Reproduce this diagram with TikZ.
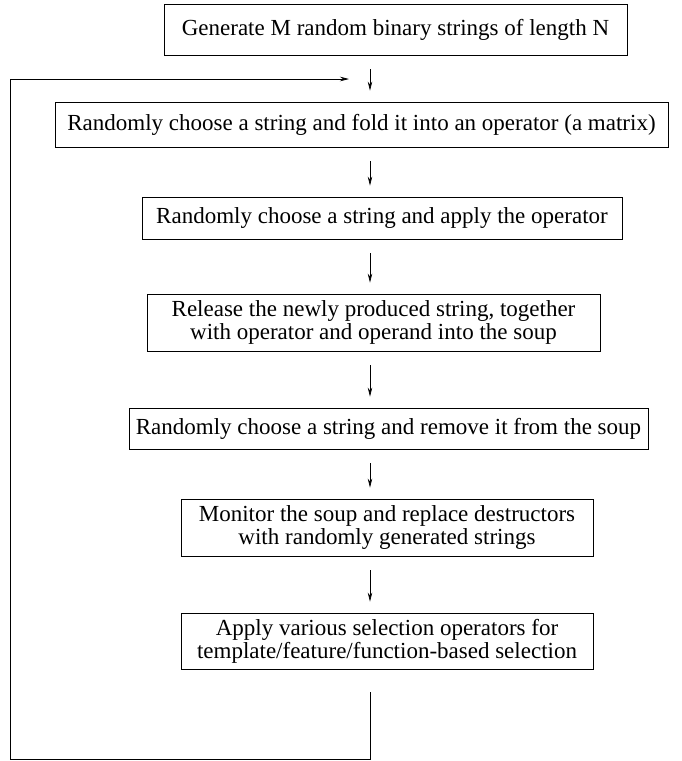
\documentclass[tikz,border=0pt]{standalone}
\usepackage{fontspec}
\setmainfont{Liberation Serif}
\usetikzlibrary{arrows.meta}

\begin{document}
\begin{tikzpicture}[x=1pt,y=-1pt,
        stepbox/.style={draw,line width=0.8pt,inner sep=0pt,align=center,font=\fontsize{23}{23}\selectfont},
        arr/.style={-{Stealth[length=9pt,width=4.5pt]},line width=0.7pt,shorten <=14pt,shorten >=11pt}]
            \useasboundingbox (0,0) rectangle (682,761);
            \coordinate (ax) at (370,0);
            \node[stepbox,minimum width=463pt,minimum height=51pt] (b1) at (395.5,29.5) {Generate M random binary strings of length N};
            \node[stepbox,minimum width=613pt,minimum height=45pt] (b2) at (361.5,124.5) {Randomly choose a string and fold it into an operator (a matrix)};
            \node[stepbox,minimum width=480pt,minimum height=42pt] (b3) at (382,218) {Randomly choose a string and apply the operator};
            \node[stepbox,minimum width=453pt,minimum height=57pt] (b4) at (373.5,322.5) {Release the newly produced string, together\\ with operator and operand into the soup};
            \node[stepbox,minimum width=519pt,minimum height=41pt] (b5) at (388.5,428.5) {Randomly choose a string and remove it from the soup};
            \node[stepbox,minimum width=412pt,minimum height=57pt] (b6) at (387,527.5) {Monitor the soup and replace destructors\\ with randomly generated strings};
            \node[stepbox,minimum width=412pt,minimum height=56pt] (b7) at (387,641) {Apply various selection operators for\\ template/feature/function-based selection};
            \foreach \a/\b in {b1/b2,b2/b3,b3/b4,b4/b5,b5/b6,b6/b7}{
                \draw[arr] (\a.south -| ax) -- (\b.north -| ax);
            }
            % feedback loop
            \coordinate (loopstart) at (370,692);
            \coordinate (loopcorner) at (10,759);
            \coordinate (loopend) at (349,79);
            \draw[arr,shorten <=0pt,shorten >=0pt] (loopstart) |- (loopcorner) |- (loopend);
        \end{tikzpicture}
\end{document}
